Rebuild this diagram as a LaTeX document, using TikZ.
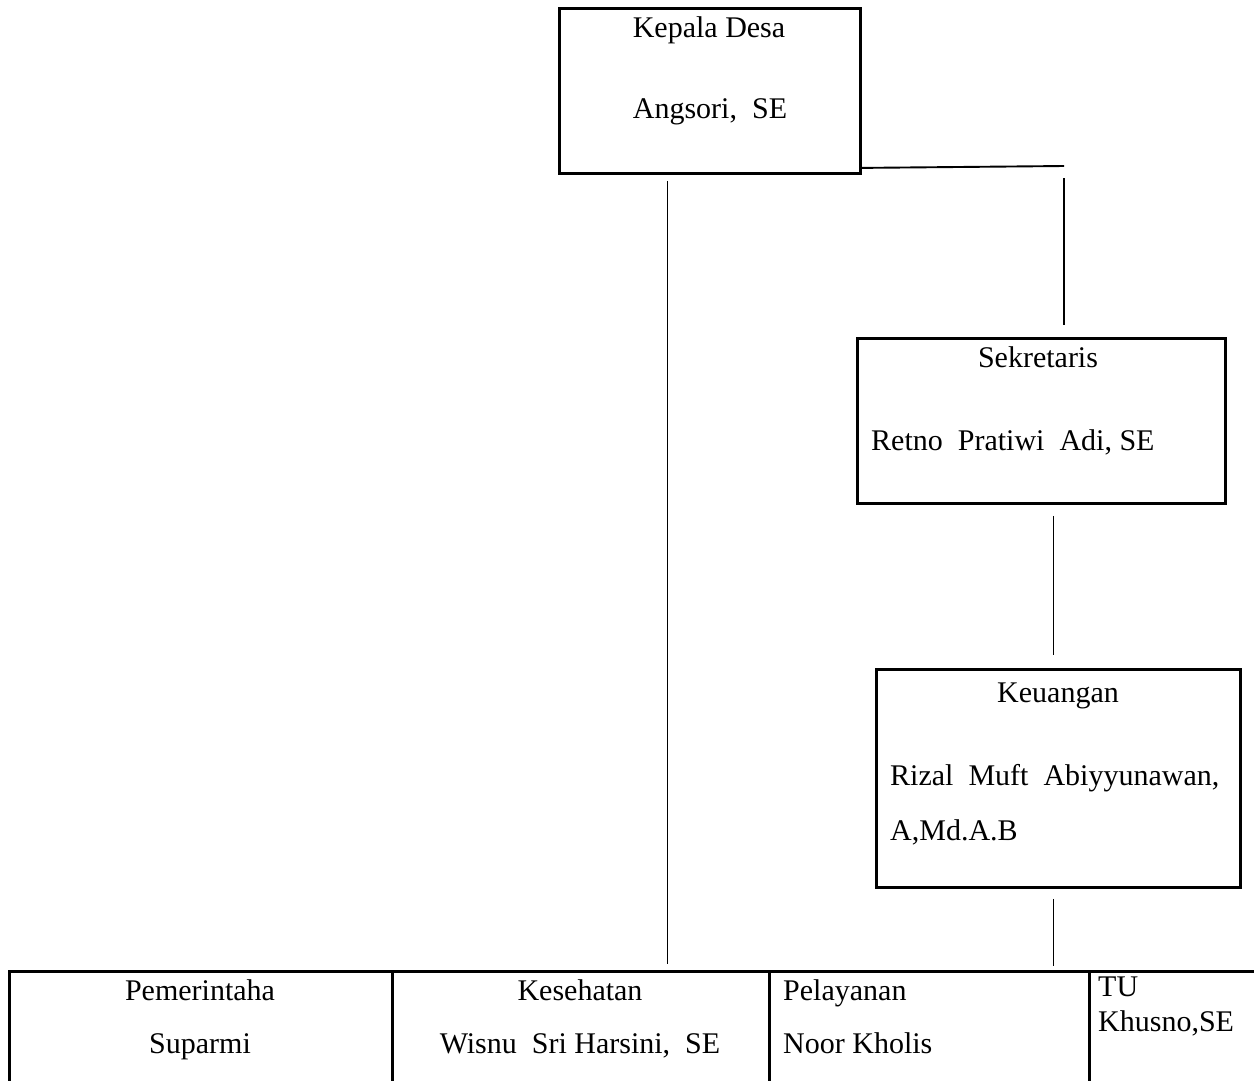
\documentclass[tikz,border=0pt]{standalone}
\usepackage{fontspec}
\setmainfont{Liberation Serif}
\begin{document}
\begin{tikzpicture}[x=1pt,y=-1pt,
 box/.style={draw, line width=2.9pt, inner sep=0pt, anchor=north west},
 conn/.style={line width=1.9pt},
 lbl/.style={inner sep=0pt, font=\fontsize{30}{36}\selectfont},
]
\fill[white] (0,0) rectangle (1254,1080);
\useasboundingbox (0,0) rectangle (1254,1080);

\node[box, minimum width=301pt, minimum height=165pt] (kd) at (558,7) {};
\node[box, minimum width=368pt, minimum height=165pt] (sek) at (856,337) {};
\node[box, minimum width=364pt, minimum height=218pt] (keu) at (875,668) {};
\node[box, minimum width=383pt, minimum height=130pt] (pem) at (8,970) {};
\node[box, minimum width=377pt, minimum height=130pt] (kes) at (391,970) {};
\node[box, minimum width=320pt, minimum height=130pt] (pel) at (768,970) {};
\node[box, minimum width=180pt, minimum height=130pt] (tu) at (1088,970) {};

\node[lbl, anchor=base] (t1) at (709,37) {Kepala Desa};
\node[lbl, anchor=base] (t2) at (710,118) {Angsori,\ \ SE};
\node[lbl, anchor=base] (t3) at (1038,367) {Sekretaris};
\node[lbl, anchor=base west] (t4) at (871,450) {Retno\ \ Pratiwi\ \ Adi, SE};
\node[lbl, anchor=base] (t5) at (1058,702) {Keuangan};
\node[lbl, anchor=base west] (t6) at (890,785) {Rizal\ \ Muft\ \ Abiyyunawan,};
\node[lbl, anchor=base west] (t7) at (890,840) {A,Md.A.B};
\node[lbl, anchor=base] (t8) at (200,1000) {Pemerintaha};
\node[lbl, anchor=base] (t9) at (200,1053) {Suparmi};
\node[lbl, anchor=base] (t10) at (580,1000) {Kesehatan};
\node[lbl, anchor=base] (t11) at (580,1053) {Wisnu\ \ Sri Harsini,\ \ SE};
\node[lbl, anchor=base west] (t12) at (783,1000) {Pelayanan};
\node[lbl, anchor=base west] (t13) at (783,1053) {Noor Kholis};
\node[lbl, anchor=base west] (t14) at (1098,996) {TU};
\node[lbl, anchor=base west] (t15) at (1098,1031) {Khusno,SE};

\coordinate (corner) at (1064,166);
\draw[conn] ([yshift=7pt]kd.south east) -- (corner);
\draw[conn, shorten <=12pt, shorten >=12pt] (corner) -- (corner |- sek.north);
\draw[conn, shorten <=6pt, shorten >=6pt] ([xshift=-42.5pt]kd.south) -- ([xshift=-42.5pt]kd.south |- kes.north);
\draw[conn, shorten <=11pt, shorten >=13pt] ([xshift=12pt]sek.south) -- ([xshift=12pt]sek.south |- keu.north);
\draw[conn, shorten <=10pt, shorten >=4pt] ([xshift=-5pt]keu.south) -- ([xshift=-5pt]keu.south |- pel.north);
\end{tikzpicture}
\end{document}
